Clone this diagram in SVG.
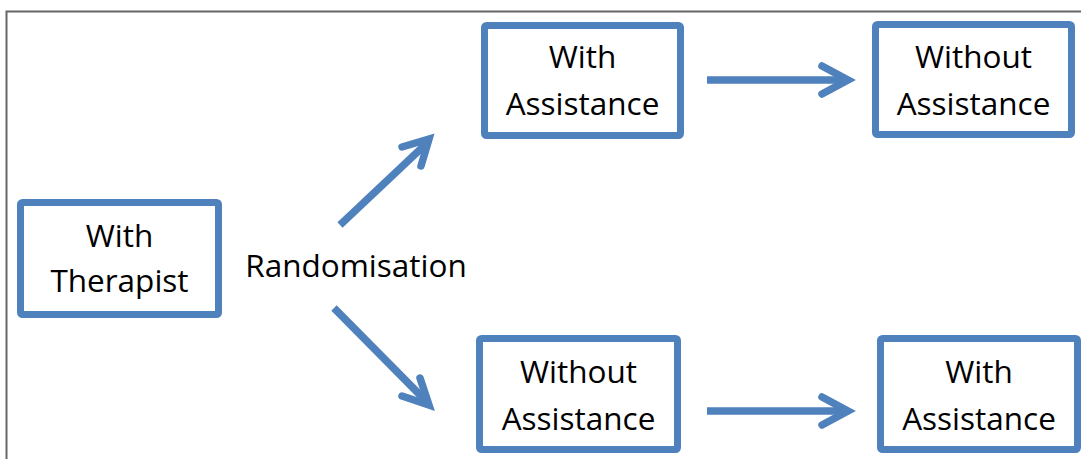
<svg xmlns="http://www.w3.org/2000/svg" width="1081" height="459" viewBox="0 0 1081 459">
  <style>
    .box { fill: #ffffff; stroke: #4f81bd; stroke-width: 7; }
    .lbl { font-family: "Open Sans", "Liberation Sans", sans-serif; font-size: 31.5px; fill: #000000; text-anchor: middle; }
    .shaft { fill: none; stroke: #4f81bd; stroke-width: 7.5; stroke-linecap: butt; }
    .head { fill: none; stroke: #4f81bd; stroke-width: 7.5; stroke-linecap: round; stroke-linejoin: miter; }
  </style>
  <rect x="0" y="0" width="1081" height="459" fill="#ffffff"/>
  <path d="M6.5,459 V11.5 H1081" fill="none" stroke="#666666" stroke-width="2"/>

  <g id="with-therapist">
    <rect class="box" x="20.5" y="202.5" width="198" height="112" rx="2"/>
    <text class="lbl" x="119.5" y="247">With</text>
    <text class="lbl" x="119.5" y="292">Therapist</text>
  </g>

  <g id="randomisation">
    <text class="lbl" x="356" y="277">Randomisation</text>
  </g>

  <g id="top-with-assistance">
    <rect class="box" x="484.5" y="25.5" width="196" height="110" rx="2"/>
    <text class="lbl" x="582.5" y="68">With</text>
    <text class="lbl" x="582.5" y="115">Assistance</text>
  </g>

  <g id="top-without-assistance">
    <rect class="box" x="875.5" y="24.5" width="196" height="110" rx="2"/>
    <text class="lbl" x="973.5" y="68">Without</text>
    <text class="lbl" x="973.5" y="115">Assistance</text>
  </g>

  <g id="bottom-without-assistance">
    <rect class="box" x="479.5" y="338.5" width="198" height="111" rx="2"/>
    <text class="lbl" x="578.5" y="383">Without</text>
    <text class="lbl" x="578.5" y="430">Assistance</text>
  </g>

  <g id="bottom-with-assistance">
    <rect class="box" x="880.5" y="338.5" width="197" height="111" rx="2"/>
    <text class="lbl" x="979" y="383">With</text>
    <text class="lbl" x="979" y="430">Assistance</text>
  </g>

  <g id="connectors">
    <line class="shaft" x1="707" y1="80" x2="846" y2="80"/>
    <polyline class="head" points="822,66 848,80 822,94"/>
    <line class="shaft" x1="707" y1="411" x2="846" y2="411"/>
    <polyline class="head" points="822,397 848,411 822,425"/>
    <line class="shaft" x1="340" y1="225" x2="427" y2="143"/>
    <polyline class="head" points="402,147 429,139 421,166"/>
    <line class="shaft" x1="334" y1="308" x2="426" y2="401"/>
    <polyline class="head" points="402,396 429,405 420,378"/>
  </g>
</svg>
